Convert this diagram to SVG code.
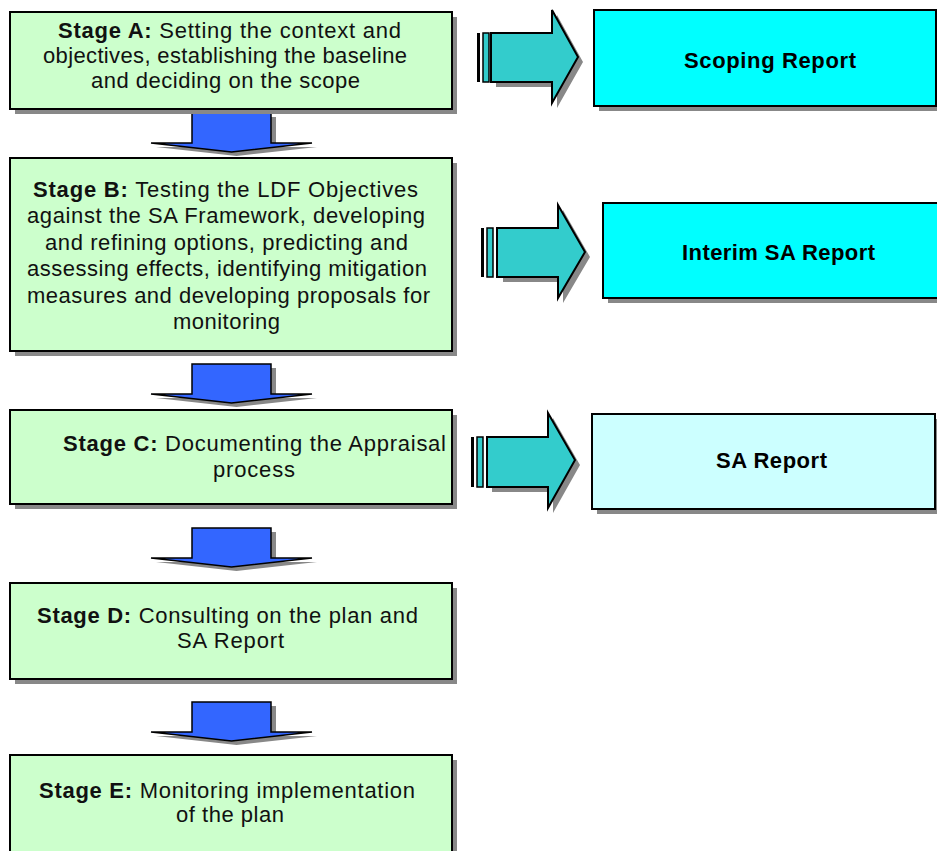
<svg xmlns="http://www.w3.org/2000/svg" width="937" height="851" viewBox="0 0 937 851">
<defs>
<style>
.stage{fill:#ccffcc;stroke:#000;stroke-width:2}
.rep{fill:#00ffff;stroke:#000;stroke-width:2}
.rep2{fill:#ccffff;stroke:#000;stroke-width:2}
.sh{fill:#888}
.t{font-family:"Liberation Sans",Arial,sans-serif;font-size:22px;fill:#111}
.b{font-weight:bold}
.rt{font-family:"Liberation Sans",Arial,sans-serif;font-size:22px;font-weight:bold;fill:#000}
.ra{fill:#33cccc;stroke:#000;stroke-width:2;stroke-linejoin:miter}
.da{fill:#3366ff;stroke:#000;stroke-width:1.5}
</style>
<polygon id="down" points="192,0 271,0 271,30 312,30 231.5,39 151,30 192,30"/>
</defs>
<rect width="937" height="851" fill="#fff"/>

<g id="connectors">
  <g id="down1" transform="translate(0,113)">
    <use href="#down" class="sh" x="5" y="4"/>
    <use href="#down" class="da"/>
  </g>
  <g id="down2" transform="translate(0,364)">
    <use href="#down" class="sh" x="5" y="4"/>
    <use href="#down" class="da"/>
  </g>
  <g id="down3" transform="translate(0,528)">
    <use href="#down" class="sh" x="5" y="4"/>
    <use href="#down" class="da"/>
  </g>
  <g id="down4" transform="translate(0,702)">
    <use href="#down" class="sh" x="5" y="4"/>
    <use href="#down" class="da"/>
  </g>
  <g id="right1">
    <polygon class="sh" points="496,38 557,38 557,15 583,62 557,108 557,87 496,87"/>
    <rect x="477" y="33" width="3" height="49" fill="#000"/>
    <rect x="483" y="33" width="6" height="49" fill="#33cccc" stroke="#000" stroke-width="1.5"/>
    <polygon class="ra" points="491,33 552,33 552,10 578,57 552,103 552,82 491,82"/>
  </g>
  <g id="right2">
    <polygon class="sh" points="503,233 563,233 563,210 590,257 563,303 563,282 503,282"/>
    <rect x="481" y="228" width="3" height="49" fill="#000"/>
    <rect x="487" y="228" width="6" height="49" fill="#33cccc" stroke="#000" stroke-width="1.5"/>
    <polygon class="ra" points="497,228 558,228 558,205 585,252 558,298 558,277 497,277"/>
  </g>
  <g id="right3">
    <polygon class="sh" points="492,442 553,442 553,418 580,465 553,513 553,492 492,492"/>
    <rect x="471" y="437" width="3" height="50" fill="#000"/>
    <rect x="477" y="437" width="6" height="50" fill="#33cccc" stroke="#000" stroke-width="1.5"/>
    <polygon class="ra" points="487,437 548,437 548,413 575,460 548,508 548,487 487,487"/>
  </g>
</g>

<g id="stageA">
  <rect class="sh" x="15" y="17" width="442" height="97"/>
  <rect class="stage" x="10" y="12" width="442" height="97"/>
  <text class="t" x="58" y="38" textLength="343"><tspan class="b">Stage A:</tspan> Setting the context and</text>
  <text class="t" x="43" y="63" textLength="364">objectives, establishing the baseline</text>
  <text class="t" x="91" y="88" textLength="269">and deciding on the scope</text>
</g>

<g id="stageB">
  <rect class="sh" x="15" y="163" width="442" height="193"/>
  <rect class="stage" x="10" y="158" width="442" height="193"/>
  <text class="t" x="33" y="197" textLength="385"><tspan class="b">Stage B:</tspan> Testing the LDF Objectives</text>
  <text class="t" x="27" y="223" textLength="398">against the SA Framework, developing</text>
  <text class="t" x="45" y="250" textLength="363">and refining options, predicting and</text>
  <text class="t" x="27" y="276" textLength="400">assessing effects, identifying mitigation</text>
  <text class="t" x="27" y="303" textLength="403">measures and developing proposals for</text>
  <text class="t" x="173" y="329" textLength="107">monitoring</text>
</g>

<g id="stageC">
  <rect class="sh" x="15" y="415" width="442" height="94"/>
  <rect class="stage" x="10" y="410" width="442" height="94"/>
  <text class="t" x="63" y="451" textLength="383"><tspan class="b">Stage C:</tspan> Documenting the Appraisal</text>
  <text class="t" x="213" y="477" textLength="82">process</text>
</g>

<g id="stageD">
  <rect class="sh" x="15" y="588" width="442" height="96"/>
  <rect class="stage" x="10" y="583" width="442" height="96"/>
  <text class="t" x="37" y="623" textLength="381"><tspan class="b">Stage D:</tspan> Consulting on the plan and</text>
  <text class="t" x="177" y="648" textLength="107">SA Report</text>
</g>

<g id="stageE">
  <rect class="sh" x="15" y="760" width="442" height="110"/>
  <rect class="stage" x="10" y="755" width="442" height="110"/>
  <text class="t" x="39" y="798" textLength="376"><tspan class="b">Stage E:</tspan> Monitoring implementation</text>
  <text class="t" x="176" y="822" textLength="108">of the plan</text>
</g>

<g id="scoping">
  <rect class="sh" x="599" y="15" width="342" height="96"/>
  <rect class="rep" x="594" y="10" width="342" height="96"/>
  <text class="rt" x="684" y="68" textLength="172">Scoping Report</text>
</g>

<g id="interim">
  <rect class="sh" x="608" y="208" width="340" height="95"/>
  <rect class="rep" x="603" y="203" width="340" height="95"/>
  <text class="rt" x="682" y="260" textLength="193">Interim SA Report</text>
</g>

<g id="sareport">
  <rect class="sh" x="597" y="419" width="343" height="95"/>
  <rect class="rep2" x="592" y="414" width="343" height="95"/>
  <text class="rt" x="716" y="468" textLength="111">SA Report</text>
</g>
</svg>
